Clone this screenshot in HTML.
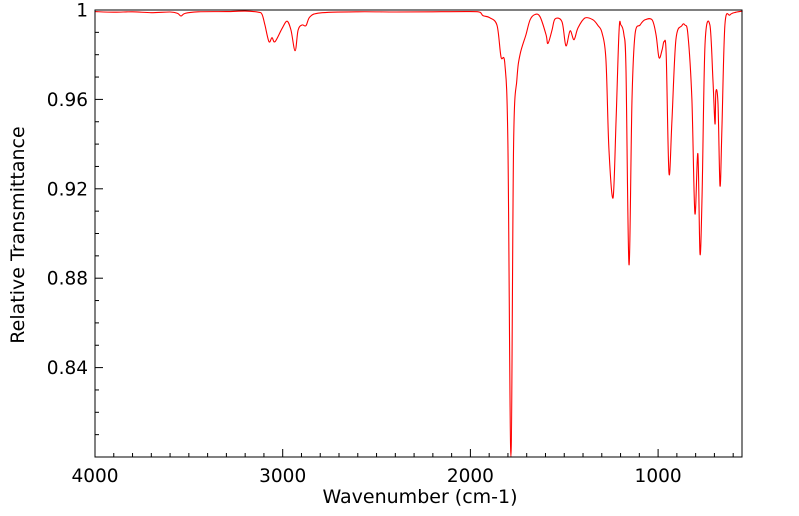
<!DOCTYPE html>
<html><head><meta charset="utf-8"><style>
body{margin:0;background:#fff;}
svg{display:block;font-family:"DejaVu Sans","Liberation Sans",sans-serif;}
</style></head><body>
<svg id="chart" width="799" height="516" viewBox="0 0 799 516" xmlns="http://www.w3.org/2000/svg">
<g id="axes"></g>
<path id="series" fill="none" stroke="#ff0000" stroke-width="1.1" stroke-linejoin="round"></path>
<rect x="95" y="10" width="647" height="447" fill="none" stroke="#000" stroke-width="1"></rect>
<text x="420" y="503" font-size="19" text-anchor="middle">Wavenumber (cm-1)</text>
<text transform="translate(24,235) rotate(-90)" font-size="19" text-anchor="middle">Relative Transmittance</text>
</svg>
<script>
const wavenumbers=[4000,3900,3800,3700,3600,3560,3542,3520,3450,3300,3200,3130,3110,3094,3073,3057,3041,3004,2977,2956,2934,2918,2897,2876,2855,2801,2600,2400,2200,2000,1950,1933,1896,1858,1837,1816,1800,1784,1770,1752,1736,1704,1682,1656,1629,1597,1587,1565,1549,1512,1491,1469,1448,1427,1390,1347,1320,1299,1278,1262,1240,1224,1208,1198,1182,1171,1155,1139,1123,1096,1070,1032,1011,995,979,968,957,942,926,905,873,857,841,820,804,788,777,766,750,724,708,697,692,681,670,660,644,617,585,550];
const transmittance=[0.9993,0.9990,0.9992,0.9988,0.9991,0.9985,0.9973,0.9985,0.9992,0.9993,0.9995,0.9990,0.998,0.993,0.9858,0.9876,0.9858,0.9916,0.995,0.991,0.9818,0.991,0.9933,0.993,0.9969,0.9987,0.9992,0.9991,0.9992,0.9993,0.999,0.9975,0.9965,0.993,0.979,0.9756,0.94,0.80,0.94,0.969,0.98,0.989,0.9956,0.998,0.997,0.989,0.985,0.991,0.996,0.9947,0.984,0.9907,0.9867,0.992,0.9964,0.9956,0.993,0.9898,0.978,0.938,0.916,0.951,0.991,0.9933,0.989,0.973,0.886,0.96,0.989,0.9933,0.9956,0.9956,0.989,0.9787,0.982,0.9858,0.98,0.927,0.951,0.9867,0.993,0.9933,0.989,0.96,0.909,0.9356,0.891,0.9156,0.9844,0.9933,0.969,0.949,0.9636,0.958,0.9213,0.9467,0.9933,0.9978,0.999,0.9995];
const xTicks=[4000,3000,2000,1000];
const xTickLabels=["4000","3000","2000","1000"];
const yTicks=[1,0.96,0.92,0.88,0.84];
const yTickLabels=["1","0.96","0.92","0.88","0.84"];
const X0=95,X1=742,Y0=10,Y1=457,WMAX=4000,WMIN=553,TMAX=1,TMIN=0.8;
function xs(w){return X0+(WMAX-w)/(WMAX-WMIN)*(X1-X0);}
function ys(t){return Y0+(TMAX-t)/(TMAX-TMIN)*(Y1-Y0);}
const NS="http://www.w3.org/2000/svg";
const axes=document.getElementById('axes');
function line(x1,y1,x2,y2,name){const l=document.createElementNS(NS,'line');
l.setAttribute('x1',x1);l.setAttribute('y1',y1);l.setAttribute('x2',x2);l.setAttribute('y2',y2);l.setAttribute('stroke','#000');


axes.appendChild(l);}
for(let w=4000;w>=WMIN;w-=100){const x=xs(w);const major=w%1000===0;line(x,Y1,x,Y1-(major?8:4),major?'x-major-tick':'x-minor-tick');}
for(let k=0;k<=20;k++){const t=1-k*0.01;const y=ys(t);const major=k%4===0;line(X0,y,X0+(major?8:4),y,major?'y-major-tick':'y-minor-tick');}
xTicks.forEach((w,i)=>{const t=document.createElementNS(NS,'text');t.setAttribute('x',xs(w));t.setAttribute('y',Y1+25);t.setAttribute('font-size','18.5');t.setAttribute('text-anchor','middle');t.textContent=xTickLabels[i];


axes.appendChild(t);});
yTicks.forEach((v,i)=>{const t=document.createElementNS(NS,'text');t.setAttribute('x',X0-7);t.setAttribute('y',ys(v)+6.5);t.setAttribute('font-size','18.5');t.setAttribute('text-anchor','end');t.textContent=yTickLabels[i];


axes.appendChild(t);});
const pts=wavenumbers.map((w,i)=>[xs(w),ys(transmittance[i])]);
let d='M'+pts[0][0].toFixed(1)+','+pts[0][1].toFixed(1);
for(let i=0;i<pts.length-1;i++){const p0=pts[Math.max(0,i-1)],p1=pts[i],p2=pts[i+1],p3=pts[Math.min(pts.length-1,i+2)];
const c1x=p1[0]+(p2[0]-p0[0])/6,c1y=p1[1]+(p2[1]-p0[1])/6,c2x=p2[0]-(p3[0]-p1[0])/6,c2y=p2[1]-(p3[1]-p1[1])/6;
d+='C'+c1x.toFixed(1)+','+c1y.toFixed(1)+' '+c2x.toFixed(1)+','+c2y.toFixed(1)+' '+p2[0].toFixed(1)+','+p2[1].toFixed(1);}
document.getElementById('series').setAttribute('d',d);
</script>
</body></html>
